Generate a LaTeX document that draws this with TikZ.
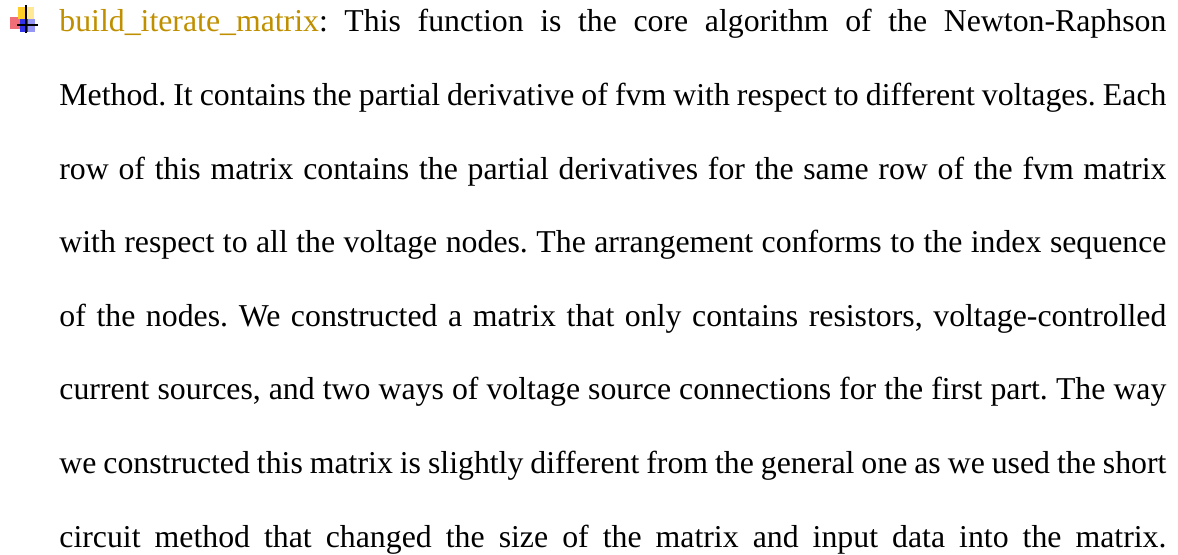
\documentclass[tikz,border=0pt]{standalone}
\usepackage{fontspec}
\setmainfont{Liberation Serif}
\usetikzlibrary{positioning}
\definecolor{funcgold}{RGB}{191,143,0}
\definecolor{iconyellow}{RGB}{255,205,40}
\definecolor{iconpale}{RGB}{255,232,150}
\definecolor{iconred}{RGB}{240,110,120}
\definecolor{iconblue}{RGB}{50,50,235}
\definecolor{iconlblue}{RGB}{150,150,245}

\begin{document}
\begin{tikzpicture}[
    x=0.5pt, y=-0.5pt,
    para/.style={anchor=base west, inner sep=0pt, text width=553.5pt, align=justify,
                 font=\fontsize{15.9}{36.8}\selectfont\frenchspacing},
    funcname/.style={color=funcgold},
    crossline/.style={draw=black, line width=0.8pt}
]
\useasboundingbox (0,0) rectangle (1178,555);

% Bullet icon
\fill[iconred] (10,17) rectangle (22,29);
\fill[iconyellow] (18,7) rectangle (26,19);
\fill[iconpale] (26,7) rectangle (34,19);
\fill[iconblue] (20,19) rectangle (28,32);
\fill[iconlblue] (28,19) rectangle (35,32);
\draw[crossline] (26,5) -- (26,33);
\draw[crossline] (17,25) -- (38,25);

% Paragraph
\node[para] (para) at (59,32) {\parfillskip=0pt\relax
\textcolor{funcgold}{build\_iterate\_matrix}: This function is the core algorithm of the Newton-Raphson\linebreak
Method. It contains the partial derivative of fvm with respect to different voltages. Each\linebreak
row of this matrix contains the partial derivatives for the same row of the fvm matrix\linebreak
with respect to all the voltage nodes. The arrangement conforms to the index sequence\linebreak
of the nodes. We constructed a matrix that only contains resistors, voltage-controlled\linebreak
current sources, and two ways of voltage source connections for the first part. The way\linebreak
we constructed this matrix is slightly different from the general one as we used the short\linebreak
circuit method that changed the size of the matrix and input data into the matrix.\par};

\end{tikzpicture}
\end{document}
